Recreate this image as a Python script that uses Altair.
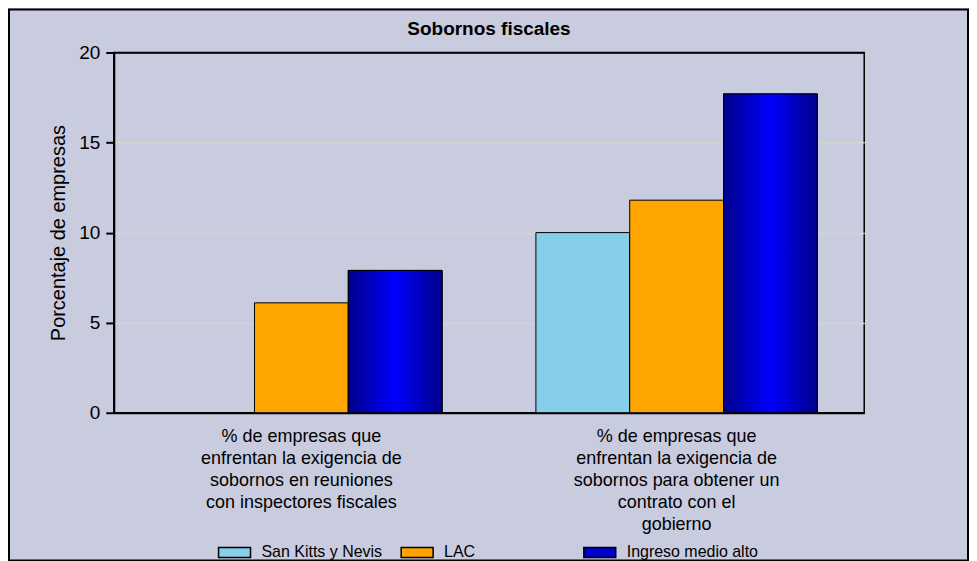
import altair as alt
import pandas as pd

categories = [
    "% de empresas que|enfrentan la exigencia de|sobornos en reuniones|con inspectores fiscales",
    "% de empresas que|enfrentan la exigencia de|sobornos para obtener un|contrato con el|gobierno",
]
series = ["San Kitts y Nevis", "LAC", "Ingreso medio alto"]
san_kitts = [None, 10.0]
lac = [6.1, 11.8]
ingreso = [7.9, 17.7]
colors = ["#87CEEB", "#FFA500", "#0000CC"]

rows = []
for i, c in enumerate(categories):
    for s, vals in zip(series, [san_kitts, lac, ingreso]):
        rows.append({"cat": c, "serie": s, "valor": vals[i]})
df = pd.DataFrame(rows)

W, H = 752, 361
BG = "#C9CBDF"
FONT = "Liberation Sans"

x_enc = alt.X("cat:N", sort=categories,
              scale=alt.Scale(paddingInner=0.25, paddingOuter=0.125),
              axis=alt.Axis(title=None, labelAngle=0, ticks=False,
                            labelExpr="split(datum.label, '|')",
                            labelFontSize=18, labelFont=FONT, labelColor="black",
                            labelLineHeight=22, labelPadding=15, labelBaseline="top",
                            domainColor="black", domainWidth=2, labelLimit=300))
xo_enc = alt.XOffset("serie:N", sort=series, scale=alt.Scale(domain=series, paddingInner=0))
y_enc = alt.Y("valor:Q", scale=alt.Scale(domain=[0, 20]),
              axis=alt.Axis(title="Porcentaje de empresas", values=[0, 5, 10, 15, 20],
                            titleFontSize=20, titleFont=FONT, titleFontWeight="normal",
                            titleColor="black", titlePadding=10,
                            labelFontSize=19, labelFont=FONT, labelColor="black", labelPadding=6,
                            tickColor="black", tickSize=8, tickWidth=2,
                            domainColor="black", domainWidth=2,
                            grid=True,
                            gridColor=alt.condition("datum.value >= 20 || datum.value <= 0",
                                                    alt.value("black"), alt.value("#D6D6CE")),
                            gridWidth=1.5))

frame = alt.Chart(alt.Data(values=[{"a": 1}])).mark_rect(
    fillOpacity=0, stroke="black", strokeWidth=2
).encode(
    x=alt.value(-105), x2=alt.value(W + 104),
    y=alt.value(-43), y2=alt.value(H + 148),
)

bars = alt.Chart(df).mark_bar(stroke="black", strokeWidth=1).encode(
    x=x_enc, xOffset=xo_enc, y=y_enc,
    color=alt.Color("serie:N", sort=series,
                    scale=alt.Scale(domain=series, range=colors),
                    legend=alt.Legend(title=None, orient="none", direction="horizontal",
                                      legendX=104, legendY=484,
                                      symbolType="M-1,-0.3125H1V0.3125H-1Z", symbolSize=1024,
                                      symbolStrokeColor="black", symbolStrokeWidth=1.5,
                                      symbolOpacity=1,
                                      labelFontSize=16, labelFont=FONT, labelColor="black",
                                      labelOffset=10, columnPadding=5, gridAlign="all",
                                      padding=0)),
)

grad = alt.Chart(df).transform_filter(
    alt.datum.serie == "Ingreso medio alto"
).mark_bar(
    stroke="black", strokeWidth=1,
    fill=alt.Gradient(gradient="linear", x1=0, x2=1, y1=0, y2=0,
                      stops=[alt.GradientStop(color="#00008A", offset=0),
                             alt.GradientStop(color="#0000B8", offset=0.2),
                             alt.GradientStop(color="#0000FF", offset=0.5),
                             alt.GradientStop(color="#0000B8", offset=0.8),
                             alt.GradientStop(color="#00008A", offset=1)]),
).encode(x=alt.X("cat:N", sort=categories), xOffset=xo_enc, y=alt.Y("valor:Q"))

chart = alt.layer(frame, bars, grad).properties(
    width=W, height=H,
    title=alt.TitleParams("Sobornos fiscales", fontSize=19, fontWeight="bold", font=FONT,
                          color="black", anchor="middle", frame="group", offset=-30),
    autosize=alt.AutoSizeParams(type="none"),
    padding={"left": 106, "top": 44, "right": 105, "bottom": 149},
    background=BG,
).configure_view(stroke="black", strokeWidth=1.5)

chart.save("out.html", embed_options={"renderer": "svg", "actions": False})
